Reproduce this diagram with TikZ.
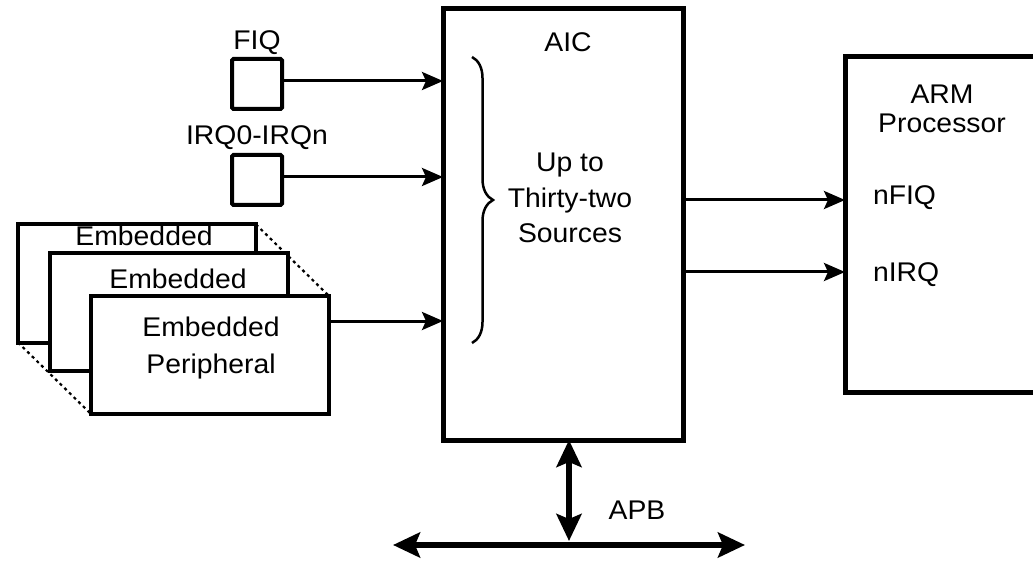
\documentclass[tikz,border=0pt]{standalone}
\usepackage{fontspec}
\setmainfont{Liberation Sans}[FakeStretch=1.05]
\usetikzlibrary{arrows.meta,decorations.pathreplacing}
\tikzset{
  bigbox/.style={draw, line width=5pt, rectangle, inner sep=0pt, outer sep=0pt, fill=white},
  srcbox/.style={draw, line width=4pt, rectangle, inner sep=0pt, outer sep=0pt, fill=white,
                 minimum width=50pt, minimum height=50pt, rounded corners=1.5pt},
  embbox/.style={draw, line width=4pt, rectangle, inner sep=0pt, outer sep=0pt, fill=white,
                 minimum width=238pt, minimum height=118pt},
  conn/.style={line width=3pt, -{Stealth[length=21pt,width=18pt,inset=4pt]}},
  busline/.style={line width=6pt, {Stealth[length=27pt,width=25pt,inset=5pt]}-{Stealth[length=27pt,width=25pt,inset=5pt]}},
  dots/.style={line width=2.2pt, dash pattern=on 3pt off 3.5pt},
  lbl/.style={font=\fontsize{27}{30}\selectfont, inner sep=0pt, outer sep=0pt},
}
\begin{document}
\begin{tikzpicture}[x=1pt,y=-1pt]
\useasboundingbox (0,0) rectangle (1033,561);
\clip (0,0) rectangle (1033,561);
\fill[white] (0,0) rectangle (1033,561);

% AIC and ARM
\node[bigbox, minimum width=240pt, minimum height=431pt] (aic) at (563,224.5) {};
\node[bigbox, minimum width=200pt, minimum height=335pt] (arm) at (945,224.5) {};

\node[lbl, anchor=base] (aicl) at (568,52) {AIC};
\node[lbl, align=center, font=\fontsize{27}{35.5}\selectfont, anchor=center] (src) at (570,198) {Up to\\Thirty-two\\Sources};
\draw[line width=2.5pt, decorate, decoration={brace, amplitude=21pt}] (472,57) coordinate (brt) -- (472,343) coordinate (brb);

\node[lbl, align=center, font=\fontsize{27}{28.5}\selectfont, anchor=center] (arml) at (942,109) {ARM\\Processor};
\node[lbl, anchor=base west] (nfiq) at (873,205) {nFIQ};
\node[lbl, anchor=base west] (nirq) at (873,282) {nIRQ};

% sources
\node[srcbox] (fiq) at (257,84) {};
\node[lbl, anchor=base] (fiql) at (257,50) {FIQ};
\node[srcbox] (irq) at (257,180) {};
\node[lbl, anchor=base] (irql) at (257,145) {IRQ0-IRQn};

% embedded peripherals
\coordinate (e1c) at (137,283.5);
\coordinate (e3c) at (210,355);
\draw[dots] ([shift={(-119pt,59pt)}]e1c) -- ([shift={(-119pt,59pt)}]e3c);
\draw[dots] ([shift={(119pt,59pt)}]e1c) -- ([shift={(119pt,59pt)}]e3c);
\draw[dots] ([shift={(-119pt,-59pt)}]e1c) -- ([shift={(-119pt,-59pt)}]e3c);
\node[embbox] (emb1) at (e1c) {};
\node[lbl, anchor=base] (emb1l) at (144,246) {Embedded};
\node[embbox] (emb2) at (169,312) {};
\node[lbl, anchor=base] (emb2l) at (178,288) {Embedded};
\node[embbox] (emb3) at (e3c) {};
\node[lbl, align=center, font=\fontsize{27}{37.5}\selectfont, anchor=center] (emb3l) at (211,348) {Embedded\\Peripheral};

% connectors
\draw[conn] (fiq.east |- 0,81) coordinate (fo) -- (fo -| aic.west);
\draw[conn] (irq.east |- 0,177) coordinate (io) -- (io -| aic.west);
\draw[conn] ([yshift=34pt]emb3.east) coordinate (eo) -- (eo -| aic.west);
\draw[conn] (aic.east |- 0,200) coordinate (ao1) -- (ao1 -| arm.west);
\draw[conn] (aic.east |- 0,272) coordinate (ao2) -- (ao2 -| arm.west);

% APB bus
\coordinate (busL) at (393,545);
\coordinate (busR) at (745,545);
\draw[busline] (busL) -- (busR);
\draw[busline] ([xshift=6pt]aic.south) coordinate (vt) -- (vt |- 0,541);
\node[lbl, anchor=base] (apb) at (637,519) {APB};
\end{tikzpicture}
\end{document}
